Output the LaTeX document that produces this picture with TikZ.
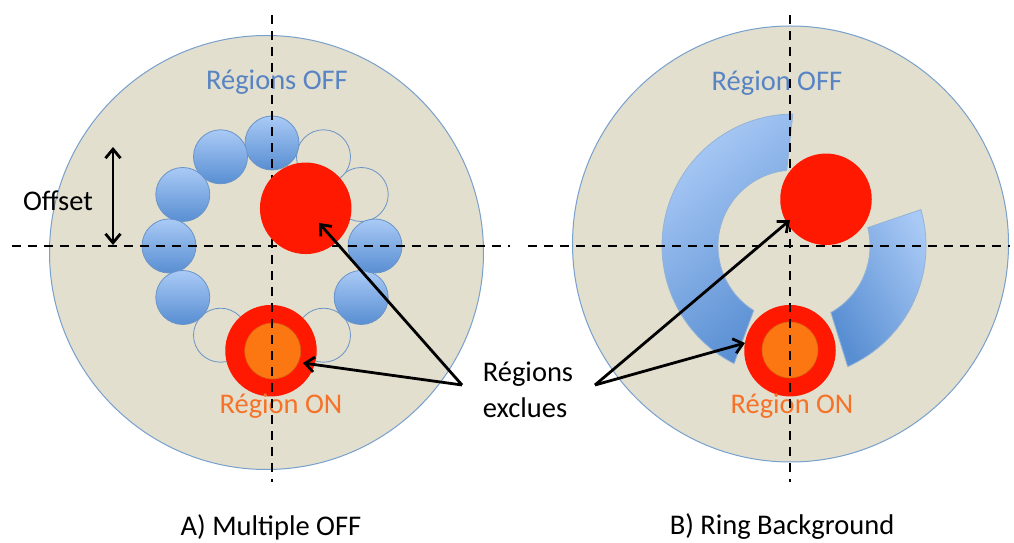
\documentclass[tikz,border=0pt]{standalone}
\usepackage{fontspec}
\setmainfont{Carlito}
\usetikzlibrary{arrows.meta,calc}
\definecolor{beige}{RGB}{226,223,207}
\definecolor{rimblue}{RGB}{120,160,205}
\definecolor{dotrim}{RGB}{105,148,200}
\definecolor{bluelight}{RGB}{170,202,246}
\definecolor{bluedark}{RGB}{88,142,210}
\definecolor{redx}{RGB}{255,25,0}
\definecolor{orangeon}{RGB}{252,118,18}
\definecolor{txtblue}{RGB}{88,132,196}
\definecolor{txtorange}{RGB}{246,114,40}
\begin{document}
\begin{tikzpicture}[x=1pt,y=1pt,
  bigdisc/.style={circle, draw=rimblue, line width=1pt, fill=beige, inner sep=0pt},
  bluedot/.style={circle, minimum size=54pt, inner sep=0pt, draw=dotrim, line width=0.8pt, top color=bluelight, bottom color=bluedark},
  whitedot/.style={circle, minimum size=54pt, inner sep=0pt, draw=dotrim, line width=0.8pt, fill=beige},
  reddot/.style={circle, fill=redx, inner sep=0pt, minimum size=91.5pt},
  orangedot/.style={circle, fill=orangeon, draw=orangeon!85!black, line width=0.6pt, inner sep=0pt, minimum size=56pt},
  axis/.style={dash pattern=on 9pt off 7pt, line width=1.8pt},
  pointer/.style={line width=2.8pt, -{Straight Barb[length=9pt,width=15pt]}},
  lbl/.style={font=\fontsize{28.5}{36}\selectfont, inner sep=0pt},
  ringseg/.style={draw=rimblue!80!white, line width=0.8pt}
]
\useasboundingbox[fill=white] (0,0) rectangle (1014,543);

% ---------- A) Multiple OFF ----------
\coordinate (c1) at (272,297);
\node[bigdisc, minimum size=434pt] (disc1) at (266.5,290.5) {};

\foreach \a in {30,60,240,300}
  \node[whitedot] (w\a) at ($(c1)+(\a:103)$) {};
\foreach \a in {90,120,150,180,210,330,0}
  \node[bluedot] (b\a) at ($(c1)+(\a:103)$) {};

\node[reddot] (onred1) at (271,192.3) {};
\node[orangedot] (on1) at (272.7,192) {};

\node[lbl, text=txtblue] (off1lbl) at (277,461) {Régions OFF};
\node[lbl, text=txtorange] (on1lbl) at (281,137) {Région ON};

\coordinate (v1t) at (272,528);
\coordinate (v1b) at (272,61);
\coordinate (h1l) at (12,297);
\coordinate (h1r) at (510,297);
\draw[axis] (v1t) -- (v1b);
\draw[axis] (h1l) -- (h1r);

\node[reddot] (exred1) at (305.7,334.7) {};

\node[lbl] (offset) at (58,342) {Offset};
\coordinate (ot) at (113,396);
\coordinate (ob) at (113,298);
\draw[line width=2.8pt, {Straight Barb[length=9pt,width=15pt]}-{Straight Barb[length=9pt,width=15pt]}] (ot) -- (ob);

% ---------- B) Ring Background ----------
\coordinate (c2) at (794,297);
\node[bigdisc, minimum size=436pt] (disc2) at (790.5,299) {};

\shade[ringseg, top color=bluelight, bottom color=bluedark, shading angle=40]
  ($(c2)+(90.5:132)$) arc[start angle=90.5, end angle=243, radius=132]
  -- ($(c2)+(238:76)$) arc[start angle=238, end angle=95.5, radius=76] -- cycle;
\shade[ringseg, top color=bluelight, bottom color=bluedark, shading angle=-60]
  ($(c2)+(-66:132)$) arc[start angle=-66, end angle=16, radius=132]
  -- ($(c2)+(14:76)$) arc[start angle=14, end angle=-61, radius=76] -- cycle;

\node[reddot] (onred2) at (790,192.3) {};
\node[orangedot] (on2) at (790,193) {};

\node[lbl, text=txtblue] (off2lbl) at (777,460) {Région OFF};
\node[lbl, text=txtorange] (on2lbl) at (792,137) {Région ON};

\coordinate (v2t) at (790,528);
\coordinate (v2b) at (790,61);
\coordinate (h2l) at (528,297);
\coordinate (h2r) at (1010,297);
\draw[axis] (v2t) -- (v2b);
\draw[axis] (h2l) -- (h2r);

\node[reddot] (exred2) at (826,343.7) {};

% ---------- excluded regions label and arrows ----------
\node[lbl, align=left] (excl) at (528,153) {Régions\\exclues};
\coordinate (e1) at (462,158);
\coordinate (e2) at (595,158);
\coordinate (t1) at (319,320);
\coordinate (t2) at (303,180);
\coordinate (t3) at (790,323);
\coordinate (t4) at (745,200);
\draw[pointer] (e1) -- (t1);
\draw[pointer] (e1) -- (t2);
\draw[pointer] (e2) -- (t3);
\draw[pointer] (e2) -- (t4);

% ---------- titles ----------
\node[lbl] (titleA) at (271,16) {A) Multiple OFF};
\node[lbl] (titleB) at (782,16) {B) Ring Background};
\end{tikzpicture}
\end{document}
